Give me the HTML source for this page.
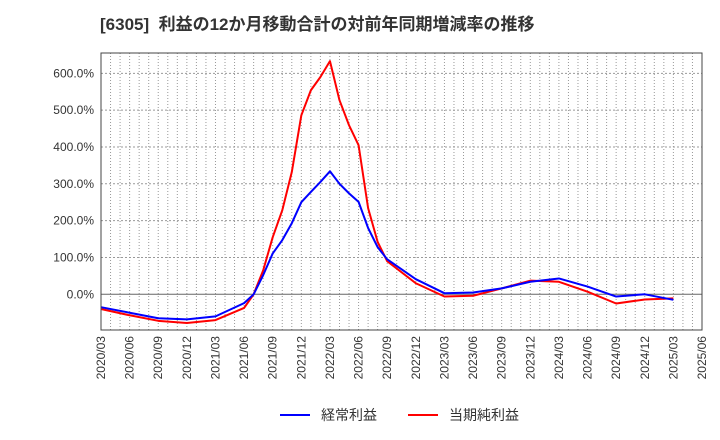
<!DOCTYPE html>
<html><head><meta charset="utf-8"><style>
body{margin:0;background:#fff;font-family:"Liberation Sans","Noto Sans CJK JP",sans-serif;}
svg{display:block}
</style></head><body>
<svg id="chart" width="720" height="440" xmlns="http://www.w3.org/2000/svg">
<text x="100" y="30" font-size="17" font-weight="bold" fill="#333" xml:space="preserve" font-family="Liberation Sans,Noto Sans CJK JP,sans-serif">[6305]  利益の12か月移動合計の対前年同期増減率の推移</text>
<g id="grid"></g><g id="series"></g><g id="axes"></g>
<g>
<line x1="280" y1="415" x2="310" y2="415" stroke="#0000ff" stroke-width="2"/>
<text x="321" y="420" font-size="14" fill="#333">経常利益</text>
<line x1="408" y1="415" x2="438" y2="415" stroke="#ff0000" stroke-width="2"/>
<text x="449" y="420" font-size="14" fill="#333">当期純利益</text>
</g>
</svg>
<script>
// month index from 2020/03 (0)
const months = [0,3,6,9,12,15,16,17,18,19,20,21,22,23,24,25,26,27,28,29,30,33,36,39,42,45,48,51,54,57,60];
const keijo = [-35,-50,-65,-68,-60,-24,0,52,111,147,193,250,278,305,334,300,274,251,180,128,95,41,3,5,16,34,43,21,-6,0,-15];
const junri = [-40,-57,-72,-78,-70,-37,0,65,155,228,332,486,554,590,633,527,459,405,234,142,90,30,-6,-4,16,37,34,7,-25,-14,-11];
const yTicks = [0,100,200,300,400,500,600];
const xLabels = ["2020/03","2020/06","2020/09","2020/12","2021/03","2021/06","2021/09","2021/12","2022/03","2022/06","2022/09","2022/12","2023/03","2023/06","2023/09","2023/12","2024/03","2024/06","2024/09","2024/12","2025/03","2025/06"];
const L=101,R=702,T=53,B=330,TOTAL=63;
const xs=m=>L+(R-L)*m/TOTAL;
const ys=v=>294.3-v*0.3683;
const NS="http://www.w3.org/2000/svg";
function mk(tag,attrs,parent){const e=document.createElementNS(NS,tag);for(const k in attrs)e.setAttribute(k,attrs[k]);parent.appendChild(e);return e;}
const grid=document.getElementById('grid'),axes=document.getElementById('axes'),series=document.getElementById('series');
for(let m=1;m<TOTAL;m++){const l=mk('line',{x1:xs(m),x2:xs(m),y1:T,y2:B,stroke:'#999','stroke-dasharray':'1,2','stroke-width':1},grid);

}
yTicks.forEach(v=>{const y=ys(v);
const l=mk('line',{x1:L,x2:R,y1:y,y2:y,stroke:v===0?'#666':'#999','stroke-dasharray':v===0?'none':'2,2','stroke-width':1},grid);


const t=mk('text',{x:L-7,y:y+4,'text-anchor':'end','font-size':12,fill:'#333'},axes);t.textContent=v.toFixed(1)+'%';

});
xLabels.forEach((s,i)=>{const x=xs(i*3);
const t=mk('text',{x:0,y:0,transform:`translate(${x+4},${B+6}) rotate(-90)`,'text-anchor':'end','font-size':12,fill:'#333'},axes);t.textContent=s;

});
const fr=mk('rect',{x:L,y:T,width:R-L,height:B-T,fill:'none',stroke:'#444','stroke-width':1},axes);


function line(vals,color,name){const p=mk('polyline',{points:months.map((m,i)=>xs(m)+','+ys(vals[i])).join(' '),fill:'none',stroke:color,'stroke-width':2,'stroke-linejoin':'round'},series);

}
line(junri,'#ff0000','series-junri-line');
line(keijo,'#0000ff','series-keijo-line');
</script>
</body></html>
